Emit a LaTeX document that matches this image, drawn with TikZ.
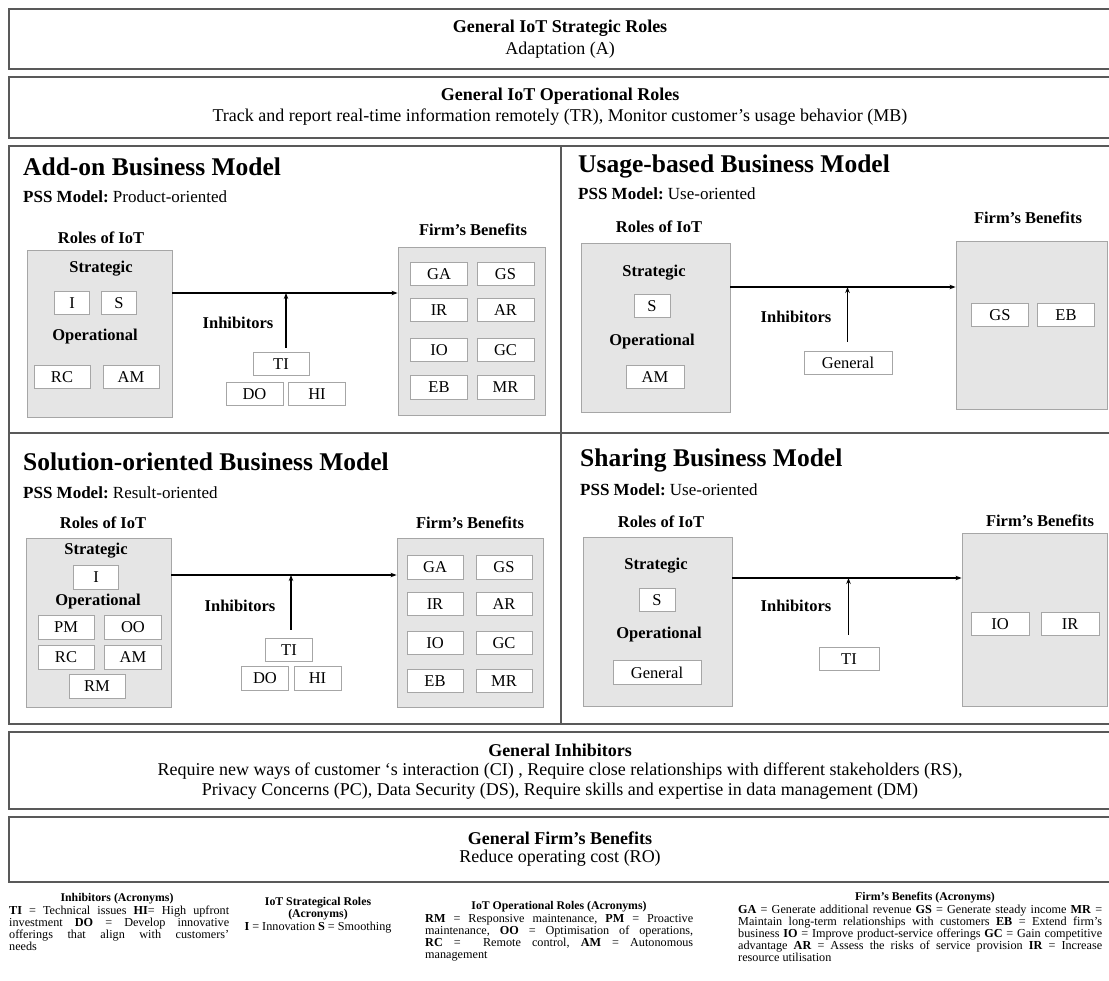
\documentclass[tikz,border=0pt]{standalone}
\usepackage{fontspec}
\setmainfont{Liberation Serif}
\usetikzlibrary{arrows.meta,fit}
\tolerance=9999
\hbadness=10000
\hfuzz=4pt
\frenchspacing
\begin{document}
\begin{tikzpicture}[x=1pt,y=-1pt,
  frame/.style={draw=black!65, line width=1.2pt},
  gbox/.style={draw=black!35, fill=black!10, line width=0.9pt, inner sep=0pt},
  abox/.style={draw=black!35, fill=white, line width=0.8pt, minimum height=23.5pt, inner sep=0pt, font=\fontsize{16.5}{18}\selectfont},
  hd/.style={font=\fontsize{18}{20}\selectfont\bfseries, inner sep=0pt},
  tx/.style={font=\fontsize{18}{20}\selectfont, inner sep=0pt, align=center},
  qtitle/.style={font=\fontsize{25.5}{28}\selectfont\bfseries, anchor=west, inner sep=0pt},
  pss/.style={font=\fontsize{17}{18}\selectfont, anchor=west, inner sep=0pt},
  lbl/.style={font=\fontsize{16.5}{18}\selectfont\bfseries, inner sep=0pt},
  arr/.style={-{Stealth[length=6pt,width=4.5pt]}, line width=1.1pt, black},
  leg/.style={font=\fontsize{12.2}{12}\selectfont, inner sep=0pt, align=justify, anchor=north west},
  legt/.style={font=\fontsize{11.8}{12}\selectfont\bfseries, inner sep=0pt, align=center}
]
\useasboundingbox (0,0) rectangle (1109,981);

% ---- general role bands ----
\draw[frame] (1109,9) -- (9,9) -- (9,69) -- (1109,69);
\node[hd] (gs) at (560,28) {General IoT Strategic Roles};
\node[tx] (gsa) at (560,50) {Adaptation (A)};

\draw[frame] (1109,77) -- (9,77) -- (9,138) -- (1109,138);
\node[hd] (go) at (560,96) {General IoT Operational Roles};
\node[tx] (goa) at (560,117) {Track and report real-time information remotely (TR), Monitor customer’s usage behavior (MB)};

% ---- business model quadrants ----
\draw[frame] (1109,146) -- (9,146) -- (9,724) -- (1109,724);
\draw[frame] (561,146) -- (561,724);
\draw[frame] (9,433) -- (1109,433);

% Add-on
\node[qtitle] (q1) at (23,167) {Add-on Business Model};
\node[pss] (q1p) at (23,197) {\textbf{PSS Model:} Product-oriented};
\node[lbl] (q1r) at (101,238) {Roles of IoT};
\node[gbox, fit={(27,250) (172,417)}] (r1) {};
\node[lbl] (r1st) at (101,269) {Strategic};
\node[abox, minimum width=35pt] (r1i) at (72,303) {I};
\node[abox, minimum width=35pt] (r1s) at (119,303) {S};
\node[lbl] (r1op) at (95,337) {Operational};
\node[abox, minimum width=56pt] (r1rc) at (62,377) {RC};
\node[abox, minimum width=56pt] (r1am) at (131,377) {AM};
\node[lbl] (q1f) at (473,230) {Firm’s Benefits};
\node[gbox, fit={(398,247) (545,415)}] (f1) {};
\node[abox, minimum width=57pt] (f1ga) at (439,274) {GA};
\node[abox, minimum width=57pt] (f1gs) at (505.5,274) {GS};
\node[abox, minimum width=57pt] (f1ir) at (439,310) {IR};
\node[abox, minimum width=57pt] (f1ar) at (505.5,310) {AR};
\node[abox, minimum width=57pt] (f1io) at (439,350) {IO};
\node[abox, minimum width=57pt] (f1gc) at (505.5,350) {GC};
\node[abox, minimum width=57pt] (f1eb) at (439,387.5) {EB};
\node[abox, minimum width=57pt] (f1mr) at (505.5,387.5) {MR};
\node[lbl] (q1in) at (238,323) {Inhibitors};
\node[abox, minimum width=56pt] (i1ti) at (281,364) {TI};
\node[abox, minimum width=57pt] (i1do) at (254.5,394) {DO};
\node[abox, minimum width=57pt] (i1hi) at (317,394) {HI};
\coordinate (j1) at (286,293);
\draw[arr] (r1.east |- j1) -- (f1.west |- j1);
\draw[arr, shorten <=4pt] (j1 |- i1ti.north) -- (j1);

% Usage-based
\node[qtitle] (q2) at (578,166) {Usage-based Business Model};
\node[pss] (q2p) at (578,194) {\textbf{PSS Model:} Use-oriented};
\node[lbl] (q2r) at (659,227) {Roles of IoT};
\node[gbox, fit={(581,243) (730,412)}] (r2) {};
\node[lbl] (r2st) at (654,273) {Strategic};
\node[abox, minimum width=36pt] (r2s) at (652,306) {S};
\node[lbl] (r2op) at (652,342) {Operational};
\node[abox, minimum width=58pt] (r2am) at (655,377) {AM};
\node[lbl] (q2f) at (1028,218) {Firm’s Benefits};
\node[gbox, fit={(956,241) (1107,409)}] (f2) {};
\node[abox, minimum width=57pt] (f2gs) at (1000,315) {GS};
\node[abox, minimum width=57pt] (f2eb) at (1066,315) {EB};
\node[lbl] (q2in) at (796,317) {Inhibitors};
\node[abox, minimum width=88pt] (i2g) at (848,363) {General};
\coordinate (j2) at (847.5,287);
\draw[arr] (r2.east |- j2) -- (f2.west |- j2);
\draw[arr, shorten <=9pt] (j2 |- i2g.north) -- (j2);

% Solution-oriented
\node[qtitle] (q3) at (23,462) {Solution-oriented Business Model};
\node[pss] (q3p) at (23,493) {\textbf{PSS Model:} Result-oriented};
\node[lbl] (q3r) at (103,523) {Roles of IoT};
\node[gbox, fit={(26,538) (171,707)}] (r3) {};
\node[lbl] (r3st) at (96,551) {Strategic};
\node[abox, minimum width=45pt] (r3i) at (96,577.5) {I};
\node[lbl] (r3op) at (98,602) {Operational};
\node[abox, minimum width=56pt] (r3pm) at (66,627.5) {PM};
\node[abox, minimum width=57pt] (r3oo) at (133,627.5) {OO};
\node[abox, minimum width=56pt] (r3rc) at (66,657.5) {RC};
\node[abox, minimum width=57pt] (r3am) at (133,657.5) {AM};
\node[abox, minimum width=56pt] (r3rm) at (97,686.5) {RM};
\node[lbl] (q3f) at (470,523) {Firm’s Benefits};
\node[gbox, fit={(397,538) (543,707)}] (f3) {};
\node[abox, minimum width=56pt] (f3ga) at (435,567.5) {GA};
\node[abox, minimum width=56pt] (f3gs) at (504,567.5) {GS};
\node[abox, minimum width=56pt] (f3ir) at (435,604) {IR};
\node[abox, minimum width=56pt] (f3ar) at (504,604) {AR};
\node[abox, minimum width=56pt] (f3io) at (435,643) {IO};
\node[abox, minimum width=56pt] (f3gc) at (504,643) {GC};
\node[abox, minimum width=56pt] (f3eb) at (435,681) {EB};
\node[abox, minimum width=56pt] (f3mr) at (504,681) {MR};
\node[lbl] (q3in) at (240,606) {Inhibitors};
\node[abox, minimum width=47pt] (i3ti) at (289,650) {TI};
\node[abox, minimum width=47pt] (i3do) at (265,678.5) {DO};
\node[abox, minimum width=47pt] (i3hi) at (317.5,678.5) {HI};
\coordinate (j3) at (291,575);
\draw[arr] (r3.east |- j3) -- (f3.west |- j3);
\draw[arr, shorten <=8pt] (j3 |- i3ti.north) -- (j3);

% Sharing
\node[qtitle] (q4) at (580,460) {Sharing Business Model};
\node[pss] (q4p) at (580,490) {\textbf{PSS Model:} Use-oriented};
\node[lbl] (q4r) at (661,522) {Roles of IoT};
\node[gbox, fit={(583,537) (732,706)}] (r4) {};
\node[lbl] (r4st) at (656,566) {Strategic};
\node[abox, minimum width=36pt] (r4s) at (657,600) {S};
\node[lbl] (r4op) at (659,635) {Operational};
\node[abox, minimum width=88pt] (r4g) at (657,672.5) {General};
\node[lbl] (q4f) at (1040,521) {Firm’s Benefits};
\node[gbox, fit={(962,533) (1107,706)}] (f4) {};
\node[abox, minimum width=58pt] (f4io) at (1000,624) {IO};
\node[abox, minimum width=58pt] (f4ir) at (1070,624) {IR};
\node[lbl] (q4in) at (796,606) {Inhibitors};
\node[abox, minimum width=60pt] (i4ti) at (849,659) {TI};
\coordinate (j4) at (848.5,578);
\draw[arr] (r4.east |- j4) -- (f4.west |- j4);
\draw[arr, shorten <=12pt] (j4 |- i4ti.north) -- (j4);

% ---- general inhibitors and benefits ----
\draw[frame] (1109,732) -- (9,732) -- (9,809) -- (1109,809);
\node[hd] (gi) at (560,750) {General Inhibitors};
\node[tx] (gil) at (560,781) {Require new ways of customer ‘s interaction (CI) , Require close relationships with different stakeholders (RS),\\Privacy Concerns (PC), Data Security (DS), Require skills and expertise in data management (DM)};

\draw[frame] (1109,817) -- (9,817) -- (9,882) -- (1109,882);
\node[hd] (gb) at (560,838) {General Firm’s Benefits};
\node[tx] (gbl) at (560,858) {Reduce operating cost (RO)};

% ---- acronym legends ----
\node[legt] (lit) at (117,899) {Inhibitors (Acronyms)};
\node[leg, text width=220pt] (lib) at (9,906) {\textbf{TI} = Technical issues \textbf{HI}= High upfront\linebreak investment \textbf{DO} = Develop innovative\linebreak offerings that align with customers’\linebreak needs};

\node[legt] (lst) at (318,909) {IoT Strategical Roles\\(Acronyms)};
\node[legt, font=\fontsize{12.2}{12}\selectfont] (lsb) at (318,928) {\textbf{I} = Innovation \textbf{S} = Smoothing};

\node[legt] (lot) at (559,907) {IoT Operational Roles (Acronyms)};
\node[leg, text width=268pt] (lob) at (425,914) {\textbf{RM} = Responsive maintenance, \textbf{PM} = Proactive\linebreak maintenance, \textbf{OO} = Optimisation of operations,\linebreak \textbf{RC} = ~Remote control, \textbf{AM} = Autonomous\linebreak management};

\node[legt] (lft) at (925,898) {Firm’s Benefits (Acronyms)};
\node[leg, text width=364pt] (lfb) at (738,905) {\textbf{GA} = Generate additional revenue \textbf{GS} = Generate steady income \textbf{MR} =\linebreak Maintain long-term relationships with customers \textbf{EB} = Extend firm’s\linebreak business \textbf{IO} = Improve product-service offerings \textbf{GC} = Gain competitive\linebreak advantage \textbf{AR} = Assess the risks of service provision \textbf{IR} = Increase\linebreak resource utilisation};

\end{tikzpicture}
\end{document}
